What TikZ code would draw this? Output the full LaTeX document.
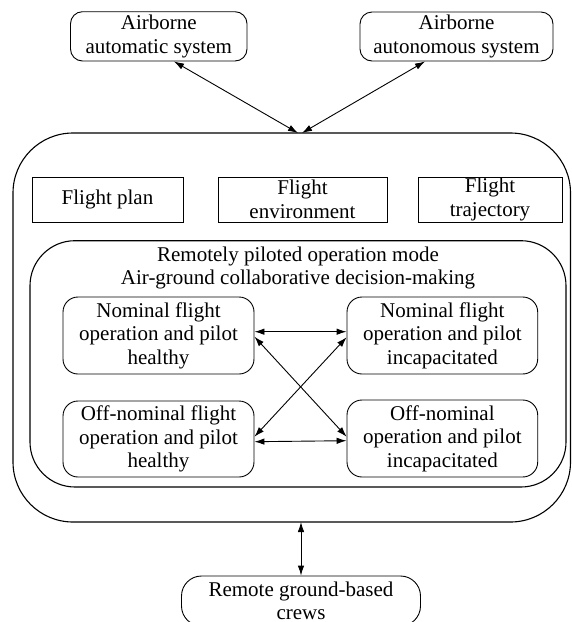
\documentclass[tikz,border=0pt]{standalone}
\usepackage{fontspec}
\setmainfont{Liberation Serif}
\usetikzlibrary{arrows.meta}
\newcommand{\figfs}{\fontsize{21}{23.5}\selectfont}
\begin{document}
\begin{tikzpicture}[x=1pt,y=-1pt,
  sqbox/.style={draw, line width=0.9pt, inner sep=0pt, align=center, font=\figfs},
  rbox/.style={sqbox, rounded corners=12pt},
  biarrow/.style={{Latex[length=10pt,width=6.5pt]}-{Latex[length=10pt,width=6.5pt]}, line width=0.9pt},
  frame/.style={draw, line width=1.1pt}]
\clip (0,0) rectangle (572,622);
% outer frames
\draw[frame, rounded corners=60pt] (13,133) rectangle (570.5,522);
\draw[frame, rounded corners=45pt] (30,240.7) rectangle (566,487);
% top boxes
\node[rbox, minimum width=176.5pt, minimum height=49.3pt] (tl) at (158.75,36.35) {Airborne\\automatic system};
\node[rbox, minimum width=193pt, minimum height=49pt] (tr) at (456.5,36.5) {Airborne\\autonomous system};
% flight boxes
\node[sqbox, minimum width=151pt, minimum height=45pt] (fp) at (107.5,199.5) {Flight plan};
\node[sqbox, minimum width=169pt, minimum height=45pt] (fe) at (302.5,199.5) {Flight\\environment};
\node[sqbox, minimum width=144pt, minimum height=45pt] (ft) at (490,199.5) {Flight\\trajectory};
% title
\node[align=center, font=\figfs, inner sep=0pt] (title) at (298,268) {Remotely piloted operation mode\\Air-ground collaborative decision-making};
% mode boxes
\node[rbox, rounded corners=15pt, minimum width=191pt, minimum height=77pt] (nw) at (158.5,335.5) {Nominal flight\\operation and pilot\\healthy};
\node[rbox, rounded corners=15pt, minimum width=190.7pt, minimum height=77pt] (ne) at (442.35,335.5) {Nominal flight\\operation and pilot\\incapacitated};
\node[rbox, rounded corners=15pt, minimum width=191pt, minimum height=76pt] (sw) at (158.5,439) {Off-nominal flight\\operation and pilot\\healthy};
\node[rbox, rounded corners=15pt, minimum width=190.7pt, minimum height=77pt] (se) at (442.35,438.5) {Off-nominal\\operation and pilot\\incapacitated};
% remote crews
\node[rbox, rounded corners=20pt, minimum width=239pt, minimum height=50pt] (rm) at (301,601) {Remote ground-based\\crews};
% connector end points on the frame
\coordinate (inA) at (298,133);
\coordinate (inB) at (302,133);
\coordinate (outB) at (301,522);
% connectors
\draw[biarrow] ([xshift=15.25pt]tl.south) -- (inA);
\draw[biarrow] ([xshift=-31.5pt]tr.south) -- (inB);
\draw[biarrow] (outB) -- (rm.north);
\draw[biarrow] ([yshift=3.8pt]nw.east) -- ([yshift=3.8pt]ne.west);
\draw[biarrow] ([yshift=-2.7pt]sw.east) -- ([yshift=-2.2pt]se.west);
\draw[biarrow] ([yshift=-1.2pt]nw.east) -- ([yshift=1.8pt]se.west);
\draw[biarrow] ([yshift=2.3pt]sw.east) -- ([yshift=-1.8pt]ne.west);
\end{tikzpicture}
\end{document}
